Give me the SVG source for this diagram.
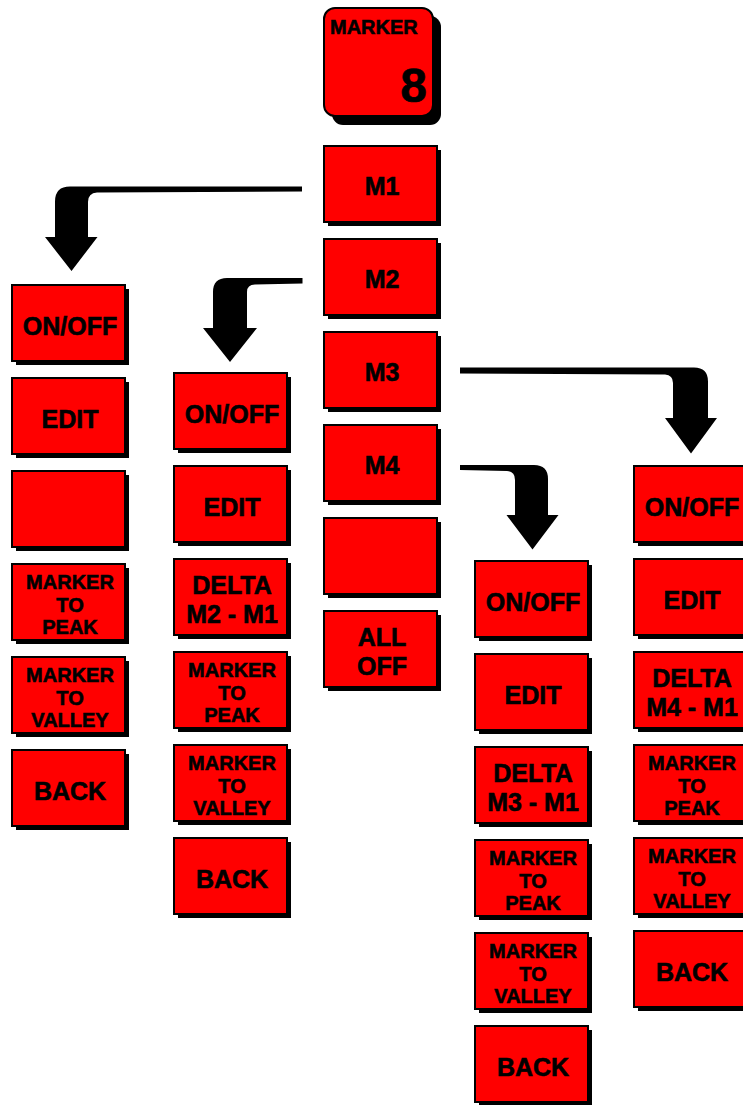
<svg xmlns="http://www.w3.org/2000/svg" width="743" height="1105" viewBox="0 0 743 1105">
<style>
.bg{fill:#fff}
.sh{fill:#000}
.k{fill:#ff0000;stroke:#000;stroke-width:2}
.t{font-family:"Liberation Sans",Arial,Helvetica,sans-serif;font-weight:bold;fill:#000;stroke:#000;stroke-width:0.6;text-anchor:middle}
.l{font-size:25px}
.m{font-size:20px}
.ar{fill:#000}
</style>
<defs>
<g id="box"><rect class="sh" x="5" y="5" width="113" height="76"/><rect class="k" x="1" y="1" width="113" height="76"/></g>
</defs>
<rect class="bg" x="0" y="0" width="743" height="1105"/>

<g id="connectors">
<path class="ar" d="M302 186.5 L70 186.5 Q55 186.5 55 201.5 L55 237 L45 237 L71.5 271 L97.5 237 L88 237 L88 202 Q88 193 97 192.5 L302 191.5 Z"/>
<path class="ar" d="M302.5 278 L227 278 Q213 278 213 292 L213 328 L203 328 L230 362 L257 328 L247 328 L247 292 Q247 284.5 255 284.5 L302.5 283.5 Z"/>
<path class="ar" d="M460 367.5 L694 367.5 Q708 367.5 708 381.5 L708 418 L717 418 L691 453.5 L665 418 L673 418 L673 383 Q673 375 665 374.5 L460 373.5 Z"/>
<path class="ar" d="M460 465 L534 465 Q548 465 548 479 L548 515 L558.5 515 L532.5 549.5 L506.5 515 L515 515 L515 480 Q515 471.5 507 471 L460 470 Z"/>
</g>

<g id="key-marker">
<rect class="sh" x="332" y="16" width="109" height="109" rx="11"/>
<rect class="k" x="324" y="8" width="109" height="108" rx="11"/>
<text class="t" x="330" y="34" font-size="20" style="text-anchor:start">MARKER</text>
<text class="t" x="427" y="102" font-size="48" style="text-anchor:end">8</text>
</g>

<!-- center column -->
<g id="c-m1"><use href="#box" x="323" y="145"/><text class="t l" x="382" y="195">M1</text></g>
<g id="c-m2"><use href="#box" x="323" y="238"/><text class="t l" x="382" y="288">M2</text></g>
<g id="c-m3"><use href="#box" x="323" y="331"/><text class="t l" x="382" y="381">M3</text></g>
<g id="c-m4"><use href="#box" x="323" y="424"/><text class="t l" x="382" y="474">M4</text></g>
<g id="c-blank"><use href="#box" x="323" y="517"/></g>
<g id="c-alloff"><use href="#box" x="323" y="610"/><text class="t l" x="382" y="646">ALL</text><text class="t l" x="382" y="675">OFF</text></g>

<!-- column 1 (M1) -->
<g id="a-onoff"><use href="#box" x="11" y="284"/><text class="t l" x="70" y="335">ON/OFF</text></g>
<g id="a-edit"><use href="#box" x="11" y="377"/><text class="t l" x="70" y="428">EDIT</text></g>
<g id="a-blank"><use href="#box" x="11" y="470"/></g>
<g id="a-peak"><use href="#box" x="11" y="563"/><text class="t m" x="70" y="589">MARKER</text><text class="t m" x="70" y="611.5">TO</text><text class="t m" x="70" y="634">PEAK</text></g>
<g id="a-valley"><use href="#box" x="11" y="656"/><text class="t m" x="70" y="682">MARKER</text><text class="t m" x="70" y="704.5">TO</text><text class="t m" x="70" y="727">VALLEY</text></g>
<g id="a-back"><use href="#box" x="11" y="749"/><text class="t l" x="70" y="800">BACK</text></g>

<!-- column 2 (M2) -->
<g id="b-onoff"><use href="#box" x="173" y="372"/><text class="t l" x="232" y="423">ON/OFF</text></g>
<g id="b-edit"><use href="#box" x="173" y="465"/><text class="t l" x="232" y="516">EDIT</text></g>
<g id="b-delta"><use href="#box" x="173" y="558"/><text class="t l" x="232" y="593.5">DELTA</text><text class="t l" x="232" y="623">M2 - M1</text></g>
<g id="b-peak"><use href="#box" x="173" y="651"/><text class="t m" x="232" y="677">MARKER</text><text class="t m" x="232" y="699.5">TO</text><text class="t m" x="232" y="722">PEAK</text></g>
<g id="b-valley"><use href="#box" x="173" y="744"/><text class="t m" x="232" y="770">MARKER</text><text class="t m" x="232" y="792.5">TO</text><text class="t m" x="232" y="815">VALLEY</text></g>
<g id="b-back"><use href="#box" x="173" y="837"/><text class="t l" x="232" y="888">BACK</text></g>

<!-- column 3 (M4) -->
<g id="d-onoff"><use href="#box" x="474" y="560"/><text class="t l" x="533" y="611">ON/OFF</text></g>
<g id="d-edit"><use href="#box" x="474" y="653"/><text class="t l" x="533" y="704">EDIT</text></g>
<g id="d-delta"><use href="#box" x="474" y="746"/><text class="t l" x="533" y="781.5">DELTA</text><text class="t l" x="533" y="811">M3 - M1</text></g>
<g id="d-peak"><use href="#box" x="474" y="839"/><text class="t m" x="533" y="865">MARKER</text><text class="t m" x="533" y="887.5">TO</text><text class="t m" x="533" y="910">PEAK</text></g>
<g id="d-valley"><use href="#box" x="474" y="932"/><text class="t m" x="533" y="958">MARKER</text><text class="t m" x="533" y="980.5">TO</text><text class="t m" x="533" y="1003">VALLEY</text></g>
<g id="d-back"><use href="#box" x="474" y="1025"/><text class="t l" x="533" y="1076">BACK</text></g>

<!-- column 4 (M3) -->
<g id="e-onoff"><use href="#box" x="633" y="465"/><text class="t l" x="692" y="516">ON/OFF</text></g>
<g id="e-edit"><use href="#box" x="633" y="558"/><text class="t l" x="692" y="609">EDIT</text></g>
<g id="e-delta"><use href="#box" x="633" y="651"/><text class="t l" x="692" y="686.5">DELTA</text><text class="t l" x="692" y="716">M4 - M1</text></g>
<g id="e-peak"><use href="#box" x="633" y="744"/><text class="t m" x="692" y="770">MARKER</text><text class="t m" x="692" y="792.5">TO</text><text class="t m" x="692" y="815">PEAK</text></g>
<g id="e-valley"><use href="#box" x="633" y="837"/><text class="t m" x="692" y="863">MARKER</text><text class="t m" x="692" y="885.5">TO</text><text class="t m" x="692" y="908">VALLEY</text></g>
<g id="e-back"><use href="#box" x="633" y="930"/><text class="t l" x="692" y="981">BACK</text></g>
</svg>
